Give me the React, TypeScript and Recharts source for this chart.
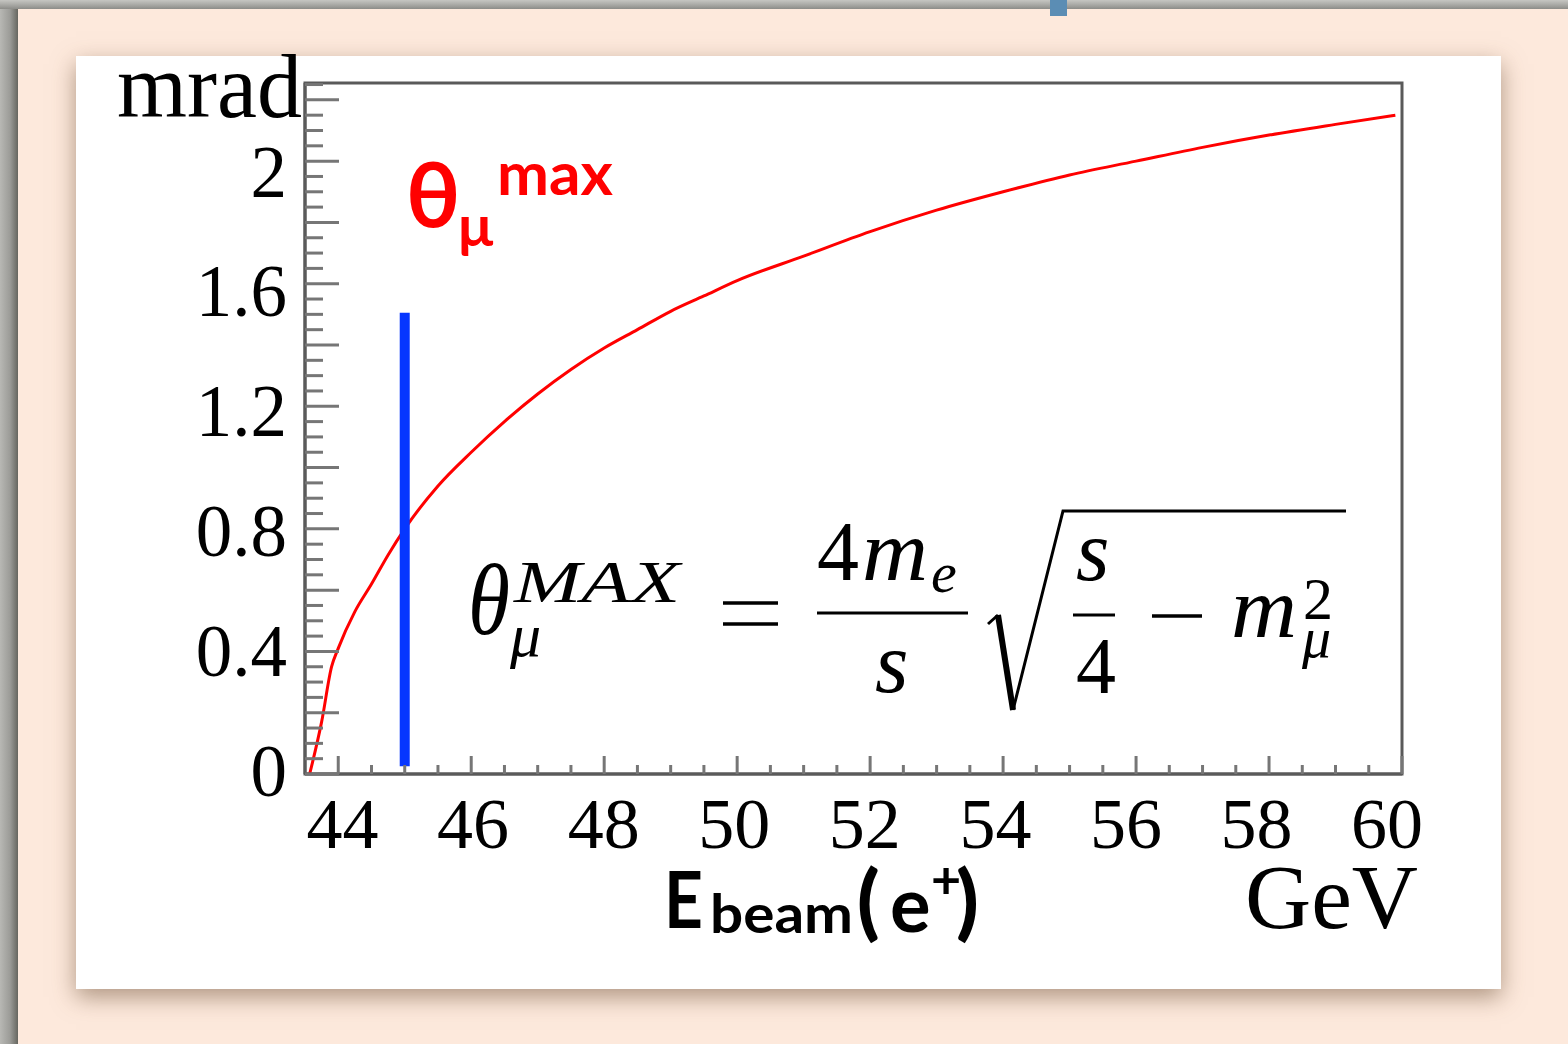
import { LineChart, Line, XAxis, YAxis, ReferenceLine, ReferenceArea } from "recharts";

// beam energy (GeV) and maximum muon angle (mrad)
const energy = [
  43.57, 43.75, 43.9, 44.0, 44.25, 44.5, 44.75, 45.0, 45.5, 46.0, 46.5, 47.0, 47.5, 48.0,
  48.5, 49.0, 49.5, 50.0, 51.0, 52.0, 53.0, 54.0, 55.0, 56.0, 57.0, 58.0, 59.0, 59.9,
];
const thetaMax = [
  0, 0.17, 0.35, 0.41, 0.53, 0.62, 0.715, 0.8, 0.94, 1.05, 1.15, 1.24, 1.32, 1.39,
  1.45, 1.51, 1.56, 1.61, 1.69, 1.77, 1.84, 1.9, 1.955, 2.0, 2.045, 2.085, 2.12, 2.15,
];

// vertical marker at the working beam energy
const markerE = 45;
const markerRange = [0.025, 1.505];

const xDomain = [43.5, 60];
const yDomain = [0, 2.255];
const xLabelTicks = [44, 46, 48, 50, 52, 54, 56, 58, 60];
const yLabelTicks = [0, 0.4, 0.8, 1.2, 1.6, 2];

const steps = (a: number, b: number, s: number) =>
  Array.from({ length: Math.round((b - a) / s) + 1 }, (_, i) => +(a + i * s).toFixed(2));
const xTicks = steps(44, 60, 0.5);
const yTicks = steps(0, 2.25, 0.05);

const data = energy.map((e, i) => ({ e, theta: thetaMax[i] }));

const SERIF = "'Liberation Serif', 'Times New Roman', serif";
const SANS = "Lato, 'Noto Sans', sans-serif";
const TICK = "#767676";
const FRAME = "#5a5a5a";

const isMultiple = (v: number, step: number) => Math.abs(v / step - Math.round(v / step)) < 1e-6;

function YTick(props: any) {
  const { x, y, payload } = props;
  const v = payload.value as number;
  const len = isMultiple(v, 0.2) ? 34 : 18;
  const labelled = yLabelTicks.includes(v);
  return (
    <g>
      <line x1={x} x2={x + len} y1={y} y2={y} stroke={TICK} strokeWidth={3} />
      {labelled && (
        <text x={x - 18} y={y + 25 - 3.5 + 7 * v} textAnchor="end" fontFamily={SERIF} fontSize={73} fill="#000">
          {String(v)}
        </text>
      )}
    </g>
  );
}

function XTick(props: any) {
  const { x, y, payload } = props;
  const v = payload.value as number;
  const len = isMultiple(v, 2) ? 18 : 9;
  const labelled = xLabelTicks.includes(v);
  // labels drift a little to the left along the axis
  const dx = -5.3 - 1.2 * (v - 52);
  return (
    <g>
      <line x1={x} x2={x} y1={y} y2={y - len} stroke={TICK} strokeWidth={3} />
      {labelled && (
        <text x={x + dx} y={y + 74} textAnchor="middle" fontFamily={SERIF} fontSize={72} fill="#000">
          {String(v)}
        </text>
      )}
    </g>
  );
}

function Formula() {
  const ink = "#000";
  return (
    <g fill={ink} fontFamily={SERIF}>
      <text x={468} y={634} fontSize={102} fontStyle="italic" textLength={42} lengthAdjust="spacingAndGlyphs">θ</text>
      <text x={514} y={602} fontSize={60} fontStyle="italic" textLength={166} lengthAdjust="spacingAndGlyphs">MAX</text>
      <text x={510} y={656} fontSize={62} fontStyle="italic">μ</text>
      <line x1={723} x2={778} y1={603} y2={603} stroke={ink} strokeWidth={3.5} />
      <line x1={723} x2={778} y1={624} y2={624} stroke={ink} strokeWidth={3.5} />
      <text x={817} y={580} fontSize={84}>4</text>
      <text x={862} y={580} fontSize={86} fontStyle="italic" textLength={66} lengthAdjust="spacingAndGlyphs">m</text>
      <text x={931} y={592} fontSize={58} fontStyle="italic">e</text>
      <line x1={817} x2={968} y1={613} y2={613} stroke={ink} strokeWidth={3} />
      <text x={875} y={692} fontSize={86} fontStyle="italic">s</text>
      <path d="M988 624 L998 615" stroke={ink} strokeWidth={3} fill="none" />
      <path d="M998 615 L1013 710" stroke={ink} strokeWidth={6} fill="none" />
      <path d="M1013 710 L1063 511 L1346 511" stroke={ink} strokeWidth={3} fill="none" />
      <text x={1076} y={580} fontSize={86} fontStyle="italic">s</text>
      <line x1={1073} x2={1115} y1={615} y2={615} stroke={ink} strokeWidth={3} />
      <text x={1076} y={693} fontSize={80}>4</text>
      <line x1={1152} x2={1202} y1={616} y2={616} stroke={ink} strokeWidth={3.5} />
      <text x={1231} y={637} fontSize={86} fontStyle="italic" textLength={66} lengthAdjust="spacingAndGlyphs">m</text>
      <text x={1303} y={619} fontSize={60}>2</text>
      <text x={1302} y={657} fontSize={58} fontStyle="italic">μ</text>
    </g>
  );
}

function Labels() {
  return (
    <svg width={1568} height={1044} style={{ position: "absolute", left: 0, top: 0, pointerEvents: "none" }}>
      <text x={117} y={117} fontFamily={SERIF} fontSize={90} fill="#000">mrad</text>
      <text x={1245} y={928} fontFamily={SERIF} fontSize={92} fill="#000" textLength={173} lengthAdjust="spacingAndGlyphs">GeV</text>

      <g fill="#ff0000" fontFamily={SANS} fontWeight={700}>
        <text x={406} y={227} fontSize={90}>θ</text>
        <text x={458} y={246} fontSize={58}>μ</text>
        <text x={497} y={195} fontSize={60} textLength={116} lengthAdjust="spacingAndGlyphs">max</text>
      </g>

      <g fill="#000" fontFamily={SANS} fontWeight={700}>
        <text x={664} y={928} fontSize={78} textLength={39} lengthAdjust="spacingAndGlyphs">E</text>
        <text x={710} y={933} fontSize={54} textLength={143} lengthAdjust="spacingAndGlyphs">beam</text>
        <text x={857} y={930} fontSize={82} fontWeight={900}>(</text>
        <text x={890} y={932} fontSize={76}>e</text>
        <text x={931} y={898} fontSize={52}>+</text>
        <text x={956} y={930} fontSize={82} fontWeight={900}>)</text>
      </g>

      <Formula />
    </svg>
  );
}

export default function App() {
  return (
    <div style={{ position: "absolute", left: 0, top: 0, width: 1568, height: 1044, background: "#fde9dc", overflow: "hidden" }}>
      <div style={{ position: "absolute", left: 0, top: 0, width: 18, height: 1044, background: "linear-gradient(to right, #b8b8b4, #9c9c98 55%, #66665f)" }} />
      <div style={{ position: "absolute", left: 0, top: 0, width: 1568, height: 9, background: "linear-gradient(to bottom, #c6c6c2, #a8a8a4 55%, #8c8c88)" }} />
      <div style={{ position: "absolute", left: 1050, top: 0, width: 17, height: 16, background: "#5b8db4" }} />
      <div
        style={{
          position: "absolute", left: 76, top: 56, width: 1425, height: 933, background: "#ffffff",
          boxShadow: "0 8px 22px rgba(110, 80, 55, 0.55)",
        }}
      />
      <div style={{ position: "absolute", left: 0, top: 0 }}>
        <LineChart width={1568} height={1044} data={data} margin={{ top: 83, right: 166, bottom: 170, left: 205 }}>
          <XAxis
            type="number" dataKey="e" domain={xDomain} allowDataOverflow ticks={xTicks} interval={0}
            height={100} tickSize={0} tickMargin={0} tick={<XTick />}
            axisLine={{ stroke: FRAME, strokeWidth: 3 }}
          />
          <YAxis
            type="number" domain={yDomain} allowDataOverflow ticks={yTicks} interval={0}
            width={100} tickSize={0} tickMargin={0} tick={<YTick />}
            axisLine={{ stroke: FRAME, strokeWidth: 3 }}
          />
          <ReferenceArea
            x1={xDomain[0]} x2={xDomain[1]} y1={yDomain[0]} y2={yDomain[1]}
            fill="none" fillOpacity={0} stroke={FRAME} strokeWidth={3} ifOverflow="visible"
          />
          <Line
            type="monotone" dataKey="theta" stroke="#ff0000" strokeWidth={3}
            dot={false} isAnimationActive={false}
          />
          <ReferenceLine
            segment={[{ x: markerE, y: markerRange[0] }, { x: markerE, y: markerRange[1] }]}
            stroke="#0636ff" strokeWidth={10}
          />
        </LineChart>
      </div>
      <Labels />
    </div>
  );
}
